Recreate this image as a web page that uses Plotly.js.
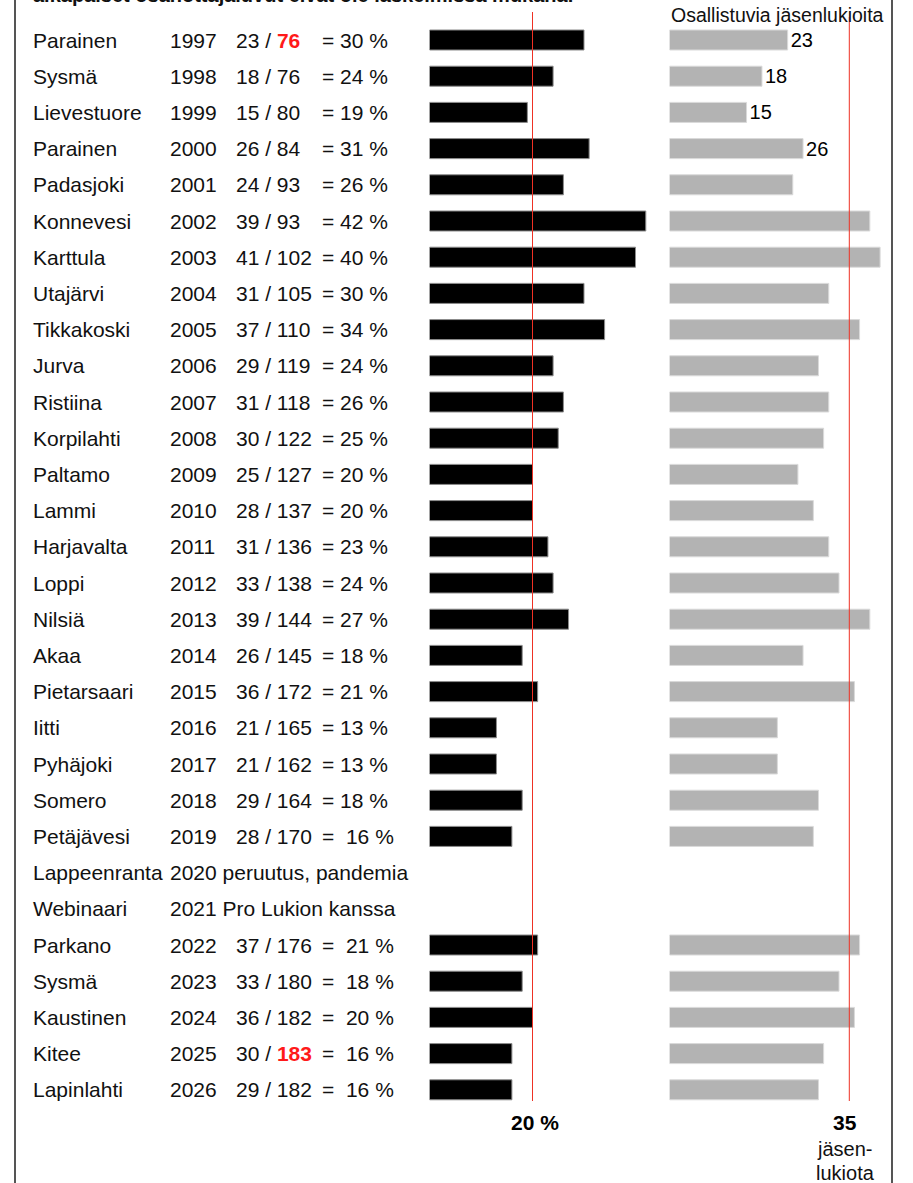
<!DOCTYPE html>
<html>
<head>
<meta charset="utf-8">
<script src="https://cdn.plot.ly/plotly-3.0.1.min.js"></script>
<style>
  html, body { margin: 0; padding: 0; background: #ffffff; }
  #chart { width: 913px; height: 1183px; }
</style>
</head>
<body>
<div id="chart"></div>
<script>
// ---- data ----
const names = ['Parainen','Sysmä','Lievestuore','Parainen','Padasjoki','Konnevesi','Karttula','Utajärvi','Tikkakoski','Jurva',
  'Ristiina','Korpilahti','Paltamo','Lammi','Harjavalta','Loppi','Nilsiä','Akaa','Pietarsaari','Iitti',
  'Pyhäjoki','Somero','Petäjävesi','Lappeenranta','Webinaari','Parkano','Sysmä','Kaustinen','Kitee','Lapinlahti'];
const years = [1997,1998,1999,2000,2001,2002,2003,2004,2005,2006,
  2007,2008,2009,2010,2011,2012,2013,2014,2015,2016,
  2017,2018,2019,2020,2021,2022,2023,2024,2025,2026];
const participants = [23,18,15,26,24,39,41,31,37,29,
  31,30,25,28,31,33,39,26,36,21,
  21,29,28,null,null,37,33,36,30,29];
const members = [76,76,80,84,93,93,102,105,110,119,
  118,122,127,137,136,138,144,145,172,165,
  162,164,170,null,null,176,180,182,183,182];
const percents = [30,24,19,31,26,42,40,30,34,24,
  26,25,20,20,23,24,27,18,21,13,
  13,18,16,null,null,21,18,20,16,16];
const notes = ['','','','','','','','','','',
  '','','','','','','','','','',
  '','','','peruutus, pandemia','Pro Lukion kanssa','','','','',''];
const labelledYears = [1997,1998,1999,2000];   // gray bars with value label
const highlightYears = [1997,2025];            // member count shown in red bold
const wideGapYears = [2019,2022,2023,2024,2025,2026]; // "=  NN %" written with a wider gap
const refPercent = 20;
const refMembers = 35;
const headerText = 'Osallistuvia jäsenlukioita';
const topNote = 'aikapäiset osanottajaluvut eivät ole laskelmissa mukana.';
const refPercentLabel = '20 %';
const refMembersLabel = ['35', 'jäsen-', 'lukiota'];

// ---- geometry (pixels) ----
const W = 913, H = 1183;
const rowTop = 40, rowStep = 36.2;
const pctStart = 429.5, pctPx = 5.15, pctEnd = 662;
const memStart = 669.5, memPx = 5.137, memEnd = 891;
const yTop = years[0] - rowTop / rowStep;
const yBottom = years[0] + (H - rowTop) / rowStep;
const py = p => 1 - p / H;  // pixel -> paper y
const px = p => p / W;      // pixel -> paper x

const FONT = 'Liberation Sans, Arial, Helvetica, sans-serif';
const TXT = 21;
const NB = '\u00a0';

const traces = [
  {
    type: 'bar', orientation: 'h',
    x: percents, y: years,
    xaxis: 'x', yaxis: 'y',
    width: 0.553,
    marker: { color: '#000000', line: { color: '#8c8c8c', width: 1 } },
    hoverinfo: 'skip'
  },
  {
    type: 'bar', orientation: 'h',
    x: participants, y: years,
    xaxis: 'x2', yaxis: 'y',
    width: 0.553,
    marker: { color: '#b3b3b3', line: { color: '#dadada', width: 1 } },
    text: years.map((yr, i) => labelledYears.includes(yr) ? String(participants[i]) : ''),
    textposition: 'outside',
    constraintext: 'none',
    cliponaxis: false,
    textfont: { family: FONT, size: 20, color: '#000000' },
    hoverinfo: 'skip'
  }
];

const ann = [];
const colName = 33, colYear = 170, colFrac = 236, colEq = 322;
years.forEach((yr, i) => {
  const base = { xref: 'paper', yref: 'y', y: yr, xanchor: 'left', yanchor: 'middle',
    showarrow: false, font: { family: FONT, size: TXT, color: '#111111' } };
  ann.push(Object.assign({}, base, { x: px(colName - 2), text: names[i] }));
  ann.push(Object.assign({}, base, { x: px(colYear - 2),
    text: notes[i] ? yr + ' ' + notes[i] : String(yr) }));
  if (participants[i] != null) {
    const m = highlightYears.includes(yr)
      ? '<span style="color:#ff1a1a"><b>' + members[i] + '</b></span>'
      : String(members[i]);
    ann.push(Object.assign({}, base, { x: px(colFrac - 2), text: participants[i] + ' / ' + m }));
    const gap = wideGapYears.includes(yr) ? NB + NB : NB;
    ann.push(Object.assign({}, base, { x: px(colEq - 2), text: '=' + gap + percents[i] + NB + '%' }));
  }
});

// header and partially cut note at top
ann.push({ xref: 'paper', yref: 'paper', x: px(669), y: py(15), xanchor: 'left', yanchor: 'middle',
  showarrow: false, text: headerText, font: { family: FONT, size: 19.5, color: '#111111' } });
ann.push({ xref: 'paper', yref: 'paper', x: px(31), y: py(-5), xanchor: 'left', yanchor: 'middle',
  showarrow: false, text: '<b>' + topNote + '</b>', font: { family: FONT, size: 20, color: '#111111' } });

// reference labels at bottom
ann.push({ xref: 'x', yref: 'paper', x: refPercent, xshift: 2, y: py(1122), xanchor: 'center', yanchor: 'middle',
  showarrow: false, text: '<b>' + refPercentLabel + '</b>', font: { family: FONT, size: 21, color: '#000000' } });
ann.push({ xref: 'x2', yref: 'paper', x: refMembers, xshift: -4, y: py(1122), xanchor: 'center', yanchor: 'middle',
  showarrow: false, text: '<b>' + refMembersLabel[0] + '</b>', font: { family: FONT, size: 21, color: '#000000' } });
ann.push({ xref: 'x2', yref: 'paper', x: refMembers, xshift: -5, y: py(1149), xanchor: 'center', yanchor: 'middle',
  showarrow: false, text: refMembersLabel[1], font: { family: FONT, size: 20, color: '#111111' } });
ann.push({ xref: 'x2', yref: 'paper', x: refMembers, xshift: -4, y: py(1173), xanchor: 'center', yanchor: 'middle',
  showarrow: false, text: refMembersLabel[2], font: { family: FONT, size: 20, color: '#111111' } });

const shapes = [
  { type: 'line', layer: 'above', xref: 'x', yref: 'paper', x0: refPercent, x1: refPercent,
    y0: py(1101), y1: py(12), line: { color: '#ee3124', width: 1 } },
  { type: 'line', layer: 'above', xref: 'x2', yref: 'paper', x0: refMembers, x1: refMembers,
    y0: py(1101), y1: py(17), line: { color: '#ee3124', width: 1 } },
  { type: 'line', layer: 'above', xref: 'paper', yref: 'paper', x0: px(15), x1: px(15),
    y0: 0, y1: 1, line: { color: '#555555', width: 2 } },
  { type: 'line', layer: 'above', xref: 'paper', yref: 'paper', x0: px(892), x1: px(892),
    y0: 0, y1: 1, line: { color: '#555555', width: 2 } }
];

const layout = {
  width: W, height: H,
  margin: { l: 0, r: 0, t: 0, b: 0, pad: 0 },
  paper_bgcolor: '#ffffff', plot_bgcolor: 'rgba(0,0,0,0)',
  showlegend: false,
  font: { family: FONT, size: TXT, color: '#111111' },
  xaxis: { domain: [px(pctStart), px(pctEnd)], range: [0, (pctEnd - pctStart) / pctPx],
    visible: false, fixedrange: true, anchor: 'y' },
  xaxis2: { domain: [px(memStart), px(memEnd)], range: [0, (memEnd - memStart) / memPx],
    visible: false, fixedrange: true, anchor: 'y' },
  yaxis: { range: [yBottom, yTop], visible: false, fixedrange: true },
  annotations: ann,
  shapes: shapes,
  hovermode: false
};

Plotly.newPlot('chart', traces, layout, { displayModeBar: false, staticPlot: true });
</script>
</body>
</html>
